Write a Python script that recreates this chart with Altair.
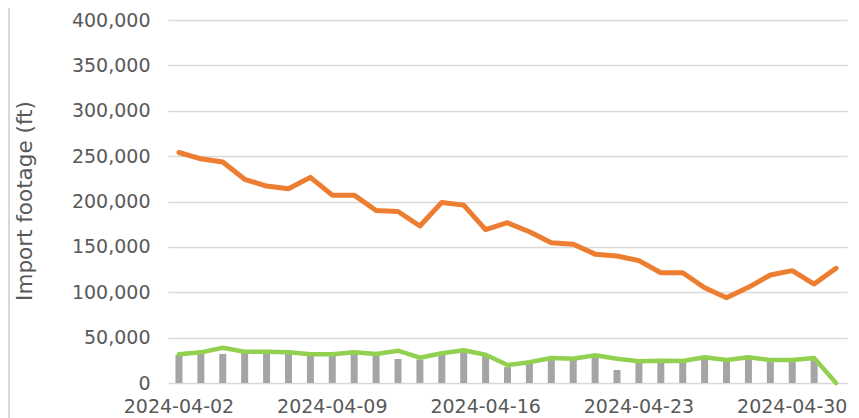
import altair as alt
import pandas as pd

dates = ["2024-04-%02d" % d for d in range(2, 31)] + ["2024-05-01", "2024-05-02"]

orange = [254000, 247000, 243500, 224500, 217000, 214000, 226600, 207000, 207000, 190000,
          189000, 173000, 199000, 196000, 169000, 176600, 166700, 154600, 153000, 142000,
          140000, 134800, 121500, 121500, 105000, 94000, 105400, 119000, 123800, 109000, 126400]

green = [31600, 33800, 38900, 34500, 34500, 34000, 31600, 31600, 34000, 32000,
         35600, 27900, 32700, 36000, 31200, 19800, 22800, 27500, 26800, 30500,
         26800, 23900, 24600, 24200, 28300, 25300, 28300, 25300, 25300, 27500, 0]

bars = [31000, 32500, 32000, 33000, 33000, 32500, 30000, 30000, 32500, 30500,
        26400, 26000, 31000, 34500, 29500, 17500, 21000, 26000, 25500, 28500,
        14300, 22500, 23000, 22500, 26500, 23500, 26500, 23500, 23500, 25500, 0]

tick_dates = ["2024-04-02", "2024-04-09", "2024-04-16", "2024-04-23", "2024-04-30"]
y_ticks = [0, 50000, 100000, 150000, 200000, 250000, 300000, 350000, 400000]

df = pd.DataFrame({"date": dates, "orange": orange, "green": green, "bars": bars})

W, H = 679, 363
FONT = "DejaVu Sans"
TXT = "#595959"

x = alt.X("date:O", sort=dates,
          scale=alt.Scale(paddingInner=0, paddingOuter=0),
          axis=alt.Axis(values=tick_dates, labelAngle=0, domain=False, ticks=False,
                        grid=False, labelFont=FONT, labelFontSize=19, labelColor=TXT,
                        labelPadding=14, title=None))

yscale = alt.Scale(domain=[0, 400000], nice=False)
yaxis = alt.Axis(values=y_ticks, format=",d", domain=False, ticks=False, grid=True,
                 gridColor="#D9D9D9", gridWidth=1.5, labelFont=FONT, labelFontSize=19,
                 labelColor=TXT, labelPadding=18, title="Import footage (ft)",
                 titleFont=FONT, titleFontSize=21.5, titleFontWeight="normal",
                 titleColor=TXT, titleX=-132, titleY=H / 2 - 1)

base = alt.Chart(df)

bar_layer = base.mark_bar(color="#A5A5A5", width=7).encode(
    x=x, y=alt.Y("bars:Q", scale=yscale, axis=yaxis))

orange_layer = base.mark_line(color="#ED7D31", strokeWidth=5, strokeJoin="round",
                              strokeCap="round").encode(
    x=x, y=alt.Y("orange:Q", scale=yscale))

green_layer = base.mark_line(color="#92D050", strokeWidth=4.5, strokeJoin="round",
                             strokeCap="round").encode(
    x=x, y=alt.Y("green:Q", scale=yscale))

border = alt.Chart(pd.DataFrame({"a": [0]})).mark_rule(color="#D9D9D9", strokeWidth=2).encode(
    x=alt.value(-159), y=alt.value(-12), y2=alt.value(H + 40))

chart = alt.layer(bar_layer, orange_layer, green_layer, border).properties(
    width=W, height=H,
    autosize=alt.AutoSizeParams(type="none"),
    padding={"left": 160, "top": 12, "right": 4, "bottom": 35},
).configure_view(stroke=None)

chart.save("out.html", embed_options={"renderer": "svg", "actions": False})
